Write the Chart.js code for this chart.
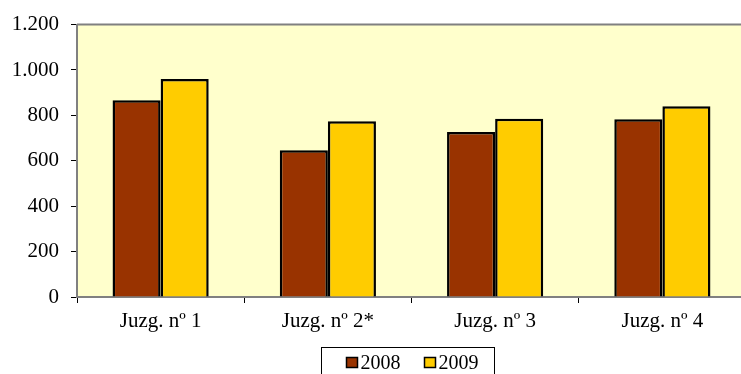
<!DOCTYPE html>
<html>
<head>
<meta charset="utf-8">
<script src="https://cdn.jsdelivr.net/npm/chart.js@4/dist/chart.umd.min.js"></script>
<style>
html,body{margin:0;padding:0;overflow:hidden;background:#fff;}
#wrap{width:746px;height:380px;}
</style>
</head>
<body>
<div id="wrap"><canvas id="c" width="746" height="380"></canvas></div>
<script>
const categories = ['Juzg. nº 1', 'Juzg. nº 2*', 'Juzg. nº 3', 'Juzg. nº 4'];
const seriesLabels = ['2008', '2009'];
const values2008 = [867, 647, 727, 783];
const values2009 = [960, 774, 785, 840];
const yMax = 1200;
const yStep = 200;

const FONT = "'Liberation Serif', 'Times New Roman', serif";

function fmt(v) {
  return String(v).replace(/\B(?=(\d{3})+(?!\d))/g, '.');
}

const plotBg = {
  id: 'plotBg',
  beforeDraw(chart) {
    const {ctx, chartArea: a} = chart;
    ctx.save();
    ctx.fillStyle = '#FFFFCC';
    ctx.fillRect(a.left, a.top, a.right - a.left, a.bottom - a.top);
    ctx.strokeStyle = '#808080';
    ctx.lineWidth = 2;
    ctx.beginPath();
    ctx.moveTo(a.left, a.top);
    ctx.lineTo(a.right + 2, a.top);
    ctx.stroke();
    ctx.restore();
  }
};

const boxLegend = {
  id: 'boxLegend',
  afterDraw(chart) {
    const {ctx, chartArea: a} = chart;
    ctx.save();
    ctx.font = '20px ' + FONT;
    const box = 11, gap = 3, between = 24, padL = 25, padR = 16;
    const ds = chart.data.datasets;
    let total = padL + padR;
    ds.forEach((d, i) => {
      total += box + gap + ctx.measureText(d.label).width;
      if (i < ds.length - 1) total += between;
    });
    const cx = (a.left + a.right) / 2 - 4;
    const left = Math.round(cx - total / 2) + 0.5;
    const top = a.bottom + 50.5;
    ctx.fillStyle = '#fff';
    ctx.fillRect(left, top, total, 40);
    ctx.strokeStyle = '#000';
    ctx.lineWidth = 1;
    ctx.strokeRect(left, top, total, 40);
    let x = left + padL;
    const cy = top + 15;
    ds.forEach((d) => {
      ctx.fillStyle = d.backgroundColor;
      ctx.fillRect(x, cy - 5, box, 10);
      ctx.strokeStyle = '#000';
      ctx.lineWidth = 1.5;
      ctx.strokeRect(x, cy - 5, box, 10);
      x += box + gap;
      ctx.fillStyle = '#000';
      ctx.textBaseline = 'middle';
      ctx.textAlign = 'left';
      ctx.fillText(d.label, x, cy + 1);
      x += ctx.measureText(d.label).width + between;
    });
    ctx.restore();
  }
};

new Chart(document.getElementById('c'), {
  type: 'bar',
  data: {
    labels: categories,
    datasets: [
      {label: seriesLabels[0], data: values2008, backgroundColor: '#993300', borderColor: '#000', borderWidth: 2.5, categoryPercentage: 0.575, barPercentage: 1},
      {label: seriesLabels[1], data: values2009, backgroundColor: '#FFCC00', borderColor: '#000', borderWidth: 2.5, categoryPercentage: 0.575, barPercentage: 1}
    ]
  },
  options: {
    responsive: false,
    animation: false,
    devicePixelRatio: 1,
    layout: {padding: {top: 23, left: 0, right: 0, bottom: 33}},
    plugins: {legend: {display: false}, tooltip: {enabled: false}, title: {display: false}},
    scales: {
      x: {
        grid: {offset: true, drawOnChartArea: false, tickLength: 6, color: '#000', tickColor: '#000'},
        border: {color: '#808080', width: 2},
        ticks: {color: '#000', font: {family: FONT, size: 21}, padding: 6, maxRotation: 0},
        afterFit(s) { s.height = 50; }
      },
      y: {
        min: 0, max: yMax,
        grid: {drawOnChartArea: false, tickLength: 6, tickColor: '#000'},
        border: {color: '#808080', width: 2},
        ticks: {stepSize: yStep, color: '#000', font: {family: FONT, size: 21}, padding: 12, callback: v => fmt(v)},
        afterFit(s) { s.width = 77; }
      }
    }
  },
  plugins: [plotBg, boxLegend]
});
</script>
</body>
</html>
